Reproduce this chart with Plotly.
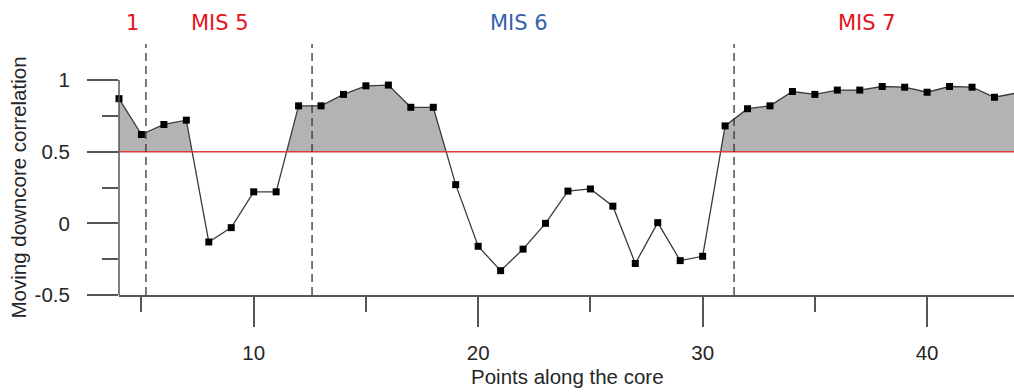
import plotly.graph_objects as go

# ---- data ----
points = list(range(4, 45))
correlation = [0.87, 0.62, 0.69, 0.72, -0.13, -0.03, 0.22, 0.22, 0.82, 0.82,
               0.90, 0.96, 0.965, 0.81, 0.81, 0.27, -0.16, -0.33, -0.18, 0.0,
               0.225, 0.24, 0.12, -0.28, 0.005, -0.26, -0.23, 0.68, 0.80, 0.82,
               0.92, 0.90, 0.93, 0.93, 0.955, 0.95, 0.915, 0.955, 0.95, 0.88, 0.91]
threshold = 0.5
mis_boundaries = [5.2, 12.6, 31.4]
stage_labels = ["1", "MIS 5", "MIS 6", "MIS 7"]
stage_centers = [4.6, 8.5, 21.8, 37.3]
stage_colors = ["#e3131b", "#e3131b", "#3462aa", "#e3131b"]
y_ticks = [-0.5, 0, 0.5, 1]
y_ticktext = ["-0.5", "0", "0.5", "1"]
y_minor = [-0.25, 0.25, 0.75]
x_ticks = [10, 20, 30, 40]
x_minor = [5, 15, 25, 35]

# ---- fill polygon above threshold (with crossing points) ----
fx, fy = [], []
for i in range(len(points)):
    if i > 0:
        y0, y1 = correlation[i - 1], correlation[i]
        if (y0 - threshold) * (y1 - threshold) < 0:
            x0, x1 = points[i - 1], points[i]
            xc = x0 + (threshold - y0) * (x1 - x0) / (y1 - y0)
            fx.append(xc)
            fy.append(threshold)
    fx.append(points[i])
    fy.append(max(correlation[i], threshold))

axis_col = "#555555"
text_col = "#262626"
font_main = "Liberation Sans, Arial, sans-serif"

fig = go.Figure()
fig.add_trace(go.Scatter(x=fx, y=[threshold] * len(fx), mode="lines",
                         line=dict(width=0), hoverinfo="skip", showlegend=False))
fig.add_trace(go.Scatter(x=fx, y=fy, mode="lines", line=dict(width=0),
                         fill="tonexty", fillcolor="#b3b3b3",
                         hoverinfo="skip", showlegend=False))
fig.add_trace(go.Scatter(x=points, y=correlation, mode="lines+markers",
                         line=dict(color="#3a3a3a", width=1.3),
                         marker=dict(symbol="square", size=7, color="black"),
                         cliponaxis=False, showlegend=False))

shapes = []
# threshold line
shapes.append(dict(type="line", xref="paper", yref="y", x0=0, x1=1,
                   y0=threshold, y1=threshold,
                   line=dict(color="#e03a3a", width=1.5), layer="above"))
# dashed MIS boundaries
for b in mis_boundaries:
    shapes.append(dict(type="line", xref="x", yref="paper", x0=b, x1=b,
                       y0=0, y1=1, line=dict(color="#333333", width=1.3, dash="8px,5px")))
# y axis line from -0.5 to 1
shapes.append(dict(type="line", xref="paper", yref="y", x0=0, x1=0,
                   y0=y_ticks[0], y1=y_ticks[-1], line=dict(color=axis_col, width=1.5)))
fig.update_layout(shapes=shapes)

annotations = []
for lab, xc, col in zip(stage_labels, stage_centers, stage_colors):
    annotations.append(dict(text=lab, x=xc, xref="x", y=1, yref="paper", yshift=21,
                            showarrow=False, font=dict(family="DejaVu Sans", size=21, color=col),
                            xanchor="center", yanchor="middle"))
annotations.append(dict(text="Points along the core", x=24, xref="x", y=0, yref="paper",
                        yshift=-81, showarrow=False,
                        font=dict(family=font_main, size=20.5, color=text_col),
                        xanchor="center", yanchor="middle"))
annotations.append(dict(text="Moving downcore correlation", x=0, xref="paper", xshift=-100,
                        y=0.25, yref="y", textangle=-90, showarrow=False,
                        font=dict(family=font_main, size=20.5, color=text_col),
                        xanchor="center", yanchor="middle"))
fig.update_layout(annotations=annotations)

fig.update_layout(
    width=1014, height=392,
    margin=dict(l=119, r=0, t=44, b=97),
    paper_bgcolor="white", plot_bgcolor="white",
    xaxis=dict(range=[4, 43.87], showgrid=False, zeroline=False,
               showline=True, linecolor=axis_col, linewidth=1.5,
               ticks="outside", tickmode="array", tickvals=x_ticks,
               ticklen=30, tickwidth=1.5, tickcolor=axis_col,
               ticklabelstandoff=9,
               minor=dict(tickmode="array", tickvals=x_minor, ticks="outside",
                          ticklen=15, tickwidth=1.5, tickcolor=axis_col, showgrid=False),
               tickfont=dict(family=font_main, size=20.5, color=text_col)),
    yaxis=dict(range=[-0.5, 1.2516], showgrid=False, zeroline=False, showline=False,
               ticks="outside", tickmode="array", tickvals=y_ticks, ticktext=y_ticktext,
               ticklen=31, tickwidth=1.5, tickcolor=axis_col,
               ticklabelstandoff=13,
               minor=dict(tickmode="array", tickvals=y_minor, ticks="outside",
                          ticklen=16, tickwidth=1.5, tickcolor=axis_col, showgrid=False),
               tickfont=dict(family=font_main, size=20.5, color=text_col)),
)

fig.write_html("out.html")
